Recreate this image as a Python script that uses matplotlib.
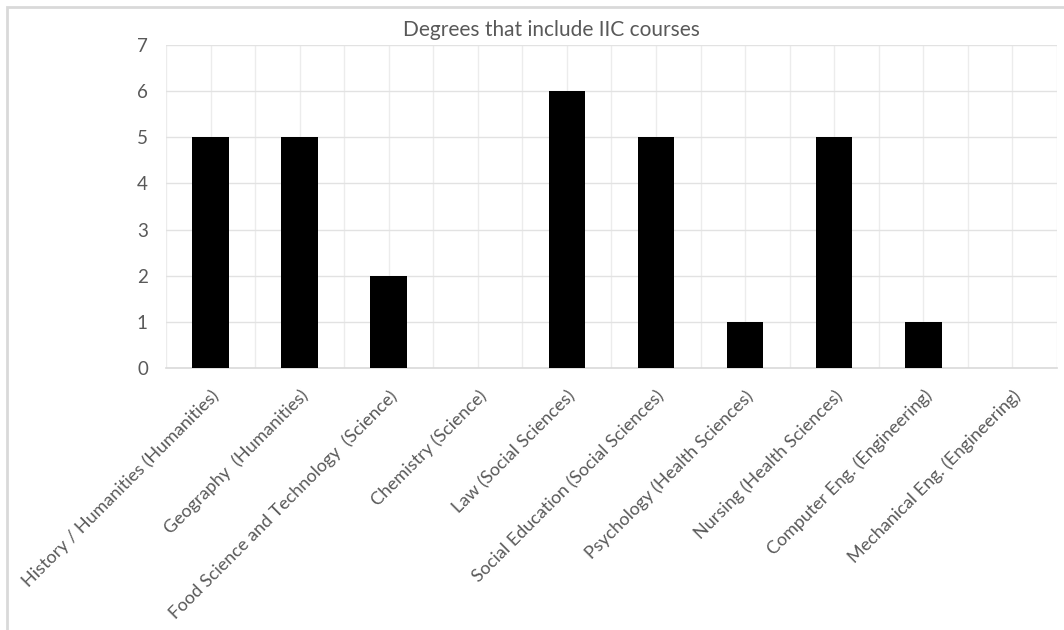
import matplotlib.pyplot as plt
import matplotlib.patches as mpatches
import numpy as np

degrees = [
    'History / Humanities (Humanities)',
    'Geography  (Humanities)',
    'Food Science and Technology  (Science)',
    'Chemistry (Science)',
    'Law (Social Sciences)',
    'Social Education (Social Sciences)',
    'Psychology (Health Sciences)',
    'Nursing (Health Sciences)',
    'Computer Eng. (Engineering)',
    'Mechanical Eng. (Engineering)',
]
counts = [5, 5, 2, 0, 6, 5, 1, 5, 1, 0]
y_ticks = [0, 1, 2, 3, 4, 5, 6, 7]

plt.rcParams['font.family'] = ['Lato', 'DejaVu Sans']
txt = '#595959'

fig = plt.figure(figsize=(10.64, 6.3), dpi=100)
ax = fig.add_axes([0.156, 0.416, 0.8374, 0.5126])

# outer chart border (only top and left are visible in the crop)
fig.patches.append(mpatches.Rectangle((6.5 / 1064, -0.1), 1.2, 1 - 7.5 / 630 + 0.1,
                                      transform=fig.transFigure, fill=False,
                                      edgecolor='#d9d9d9', linewidth=2))

x = np.arange(len(degrees))
ax.bar(x, counts, width=0.41, color='black', zorder=3)

ax.set_xlim(-0.5, len(degrees) - 0.5)
ax.set_ylim(0, 7)
ax.set_yticks(y_ticks)
ax.set_yticklabels([str(v) for v in y_ticks])

# vertical grid at category edges and centres
ax.set_xticks(x)
ax.set_xticklabels(degrees, rotation=45, ha='right', va='top',
                   rotation_mode='anchor', fontsize=13, color=txt)
for v in np.arange(-0.5, len(degrees), 0.5):
    ax.axvline(v, color='#ececec', linewidth=1, zorder=1)
for v in y_ticks[1:]:
    ax.axhline(v, color='#e2e2e2', linewidth=1, zorder=1)

ax.tick_params(axis='both', which='both', length=0)
ax.tick_params(axis='y', labelsize=13.5, labelcolor=txt, pad=13)
ax.tick_params(axis='x', pad=14)

for s in ['top', 'right', 'left']:
    ax.spines[s].set_visible(False)
ax.spines['bottom'].set_color('#d9d9d9')
ax.spines['bottom'].set_linewidth(1.2)

fig.text(0.518, 1 - 30 / 630, 'Degrees that include IIC courses', ha='center',
         va='center', fontsize=15, color=txt)

fig.savefig('out.png', dpi=100)
